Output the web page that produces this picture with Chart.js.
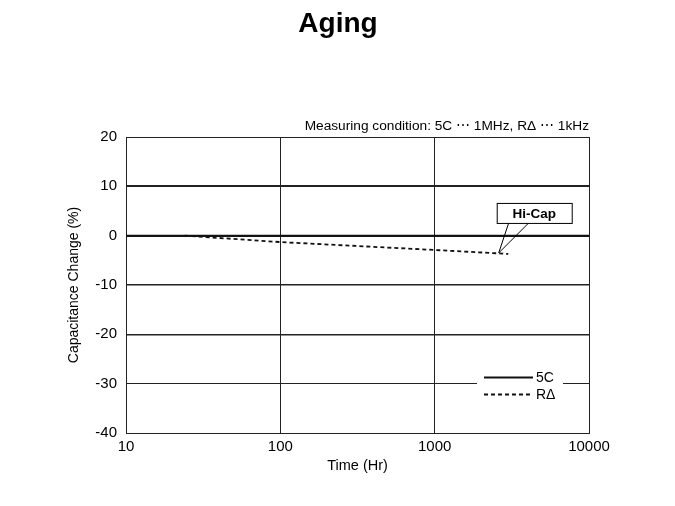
<!DOCTYPE html>
<html>
<head>
<meta charset="utf-8">
<script src="https://cdn.jsdelivr.net/npm/chart.js@4"></script>
<style>
  html, body { margin: 0; padding: 0; background: #fff; }
  #wrap { width: 675px; height: 506px; position: relative; }
</style>
</head>
<body>
<div id="wrap"><canvas id="grafica" width="675" height="506"></canvas></div>
<script>
// datos
const horasRD = [24, 100, 1000, 3000];
const cambioRD = [0, -1.3, -2.9, -3.7];
const horas5C = [10, 10000];
const cambio5C = [0, 0];
const xTicks = [10, 100, 1000, 10000];
const yTicks = [-40, -30, -20, -10, 0, 10, 20];

const fuente = "Arial, 'Liberation Sans', sans-serif";

function puntos(xs, ys) {
  return xs.map((x, i) => ({ x: x, y: ys[i] }));
}

// textos y anotaciones extra
const extras = {
  id: 'extras',
  afterDatasetsDraw(chart) {
    const ctx = chart.ctx;
    const area = chart.chartArea;
    const xs = chart.scales.x;
    const ys = chart.scales.y;
    ctx.save();

    // titulo
    ctx.fillStyle = '#000';
    ctx.font = 'bold 28px ' + fuente;
    ctx.textAlign = 'center';
    ctx.textBaseline = 'middle';
    ctx.fillText('Aging', 338, 24);

    // condicion de medida
    ctx.font = '13.7px ' + fuente;
    ctx.textAlign = 'right';
    ctx.textBaseline = 'alphabetic';
    ctx.fillText('Measuring condition: 5C \u22EF 1MHz, R\u0394 \u22EF 1kHz', area.right, 130);

    // llamada Hi-Cap
    const px = xs.getPixelForValue(2600);
    const py = ys.getPixelForValue(-3.5);
    const bx = px - 2, by = py - 50, bw = 75, bh = 20;
    ctx.strokeStyle = '#000';
    ctx.lineWidth = 1;
    ctx.fillStyle = '#fff';
    ctx.beginPath();
    ctx.moveTo(bx + 12, by + bh);
    ctx.lineTo(px, py);
    ctx.lineTo(bx + 32, by + bh);
    ctx.stroke();
    ctx.fillRect(bx, by, bw, bh);
    ctx.strokeRect(bx + 0.5, by + 0.5, bw, bh);
    ctx.fillStyle = '#000';
    ctx.font = 'bold 13.5px ' + fuente;
    ctx.textAlign = 'center';
    ctx.textBaseline = 'middle';
    ctx.fillText('Hi-Cap', bx + bw / 2, by + bh / 2 + 1);

    // leyenda
    const ly = ys.getPixelForValue(-30);
    const lx = area.right - 112;
    ctx.fillStyle = '#fff';
    ctx.fillRect(lx, ly - 10, 86, 32);
    chart.data.datasets.forEach((ds, i) => {
      const yy = Math.round(ly - 7 + i * 17) + 0.5;
      ctx.strokeStyle = ds.borderColor;
      ctx.lineWidth = ds.borderWidth;
      ctx.setLineDash(ds.borderDash || []);
      ctx.beginPath();
      ctx.moveTo(lx + 7, yy);
      ctx.lineTo(lx + 56, yy);
      ctx.stroke();
      ctx.setLineDash([]);
      ctx.fillStyle = '#000';
      ctx.font = '14px ' + fuente;
      ctx.textAlign = 'left';
      ctx.textBaseline = 'middle';
      ctx.fillText(ds.label, lx + 59, yy + 1);
    });
    ctx.restore();
  }
};

function anchoGrid(c) {
  const v = c.tick ? c.tick.value : null;
  if (v === 10 || v === 0) return 2;
  if (v === -10 || v === -20) return 1.5;
  return 1;
}

new Chart(document.getElementById('grafica').getContext('2d'), {
  type: 'line',
  data: {
    datasets: [
      {
        label: '5C',
        data: puntos(horas5C, cambio5C),
        borderColor: '#111',
        borderWidth: 2,
        pointRadius: 0,
        fill: false
      },
      {
        label: 'R\u0394',
        data: puntos(horasRD, cambioRD),
        borderColor: '#111',
        borderWidth: 1.8,
        borderDash: [4, 3],
        pointRadius: 0,
        fill: false,
        tension: 0
      }
    ]
  },
  options: {
    responsive: false,
    animation: false,
    layout: { padding: { left: 60, right: 86, top: 137, bottom: 27 } },
    plugins: {
      legend: { display: false },
      tooltip: { enabled: false }
    },
    scales: {
      x: {
        type: 'logarithmic',
        min: 10,
        max: 10000,
        afterBuildTicks(scale) {
          scale.ticks = xTicks.map(v => ({ value: v }));
        },
        afterFit(scale) { scale.height = 46; },
        ticks: {
          color: '#000',
          font: { family: fuente, size: 15 },
          padding: 5,
          maxRotation: 0,
          autoSkip: false,
          callback: v => String(v)
        },
        grid: { color: '#222', lineWidth: 1, drawTicks: false },
        border: { color: '#222', width: 1 },
        title: {
          display: true,
          text: 'Time (Hr)',
          color: '#000',
          font: { family: fuente, size: 14.5 },
          padding: { top: 4, bottom: 4 }
        }
      },
      y: {
        min: -40,
        max: 20,
        afterBuildTicks(scale) {
          scale.ticks = yTicks.map(v => ({ value: v }));
        },
        afterFit(scale) { scale.width = 66; },
        ticks: {
          color: '#000',
          font: { family: fuente, size: 15 },
          padding: 9
        },
        grid: { color: '#222', lineWidth: anchoGrid, drawTicks: false },
        border: { color: '#222', width: 1 },
        title: {
          display: true,
          text: 'Capacitance Change (%)',
          color: '#000',
          font: { family: fuente, size: 14 },
          padding: { top: 6, bottom: 4 }
        }
      }
    }
  },
  plugins: [extras]
});
</script>
</body>
</html>
